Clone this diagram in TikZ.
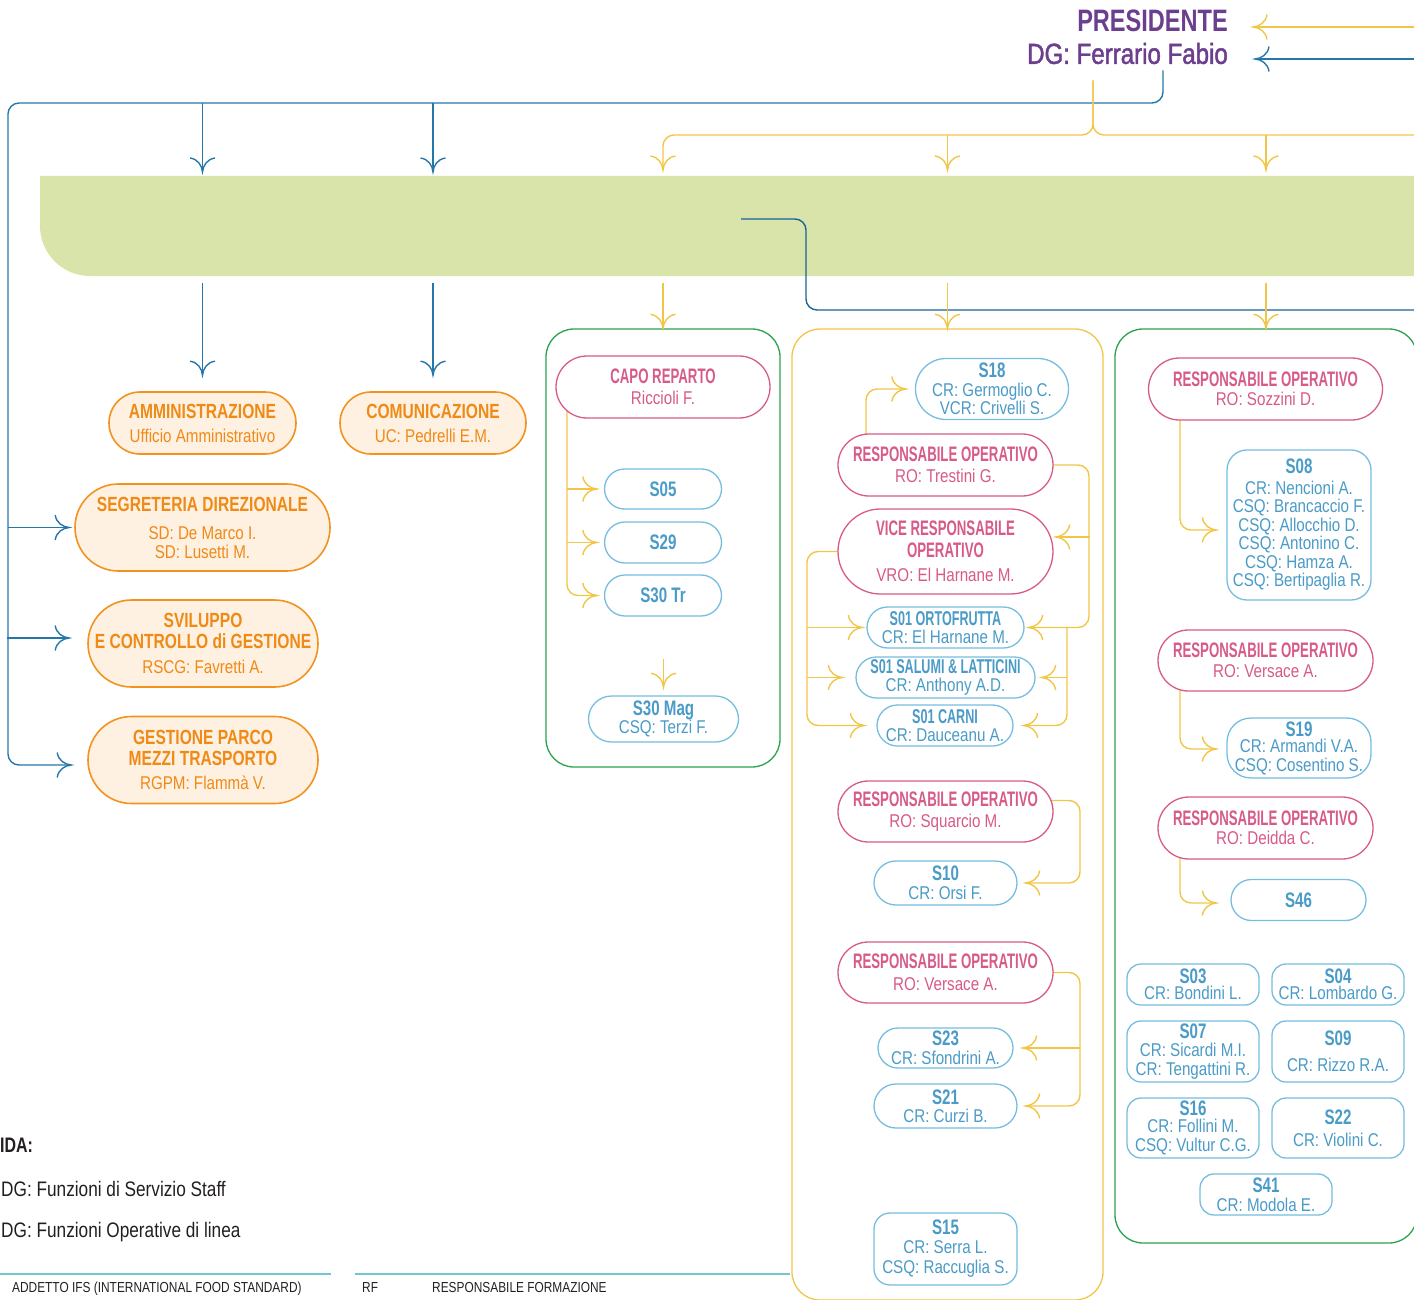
\documentclass[tikz,border=0pt]{standalone}
\usepackage{fontspec}
\setmainfont{Liberation Sans}
% condensed cuts of one sans family
\newfontfamily\famOr{Liberation Sans}[FakeStretch=0.76]
\newfontfamily\famPk{Liberation Sans}[FakeStretch=0.63]
\newfontfamily\famSn{Liberation Sans}[FakeStretch=0.72]
\newfontfamily\famRg{Liberation Sans}[FakeStretch=0.82]
\newfontfamily\famMd{Liberation Sans}[FakeStretch=0.83,FakeBold=1.6]
\usetikzlibrary{calc,arrows.meta}

\pgfdeclarelayer{back}
\pgfdeclarelayer{links}
\pgfsetlayers{back,links,main}

% forked arrow head with curved barbs
\pgfdeclarearrow{
  name = Fork,
  parameters = {\the\pgfarrowlength,\the\pgfarrowwidth},
  setup code = {
    \pgfarrowssettipend{0pt}
    \pgfarrowssetlineend{0pt}
    \pgfarrowssetbackend{-\pgfarrowlength}
    \pgfarrowshullpoint{0pt}{0pt}
    \pgfarrowsupperhullpoint{-\pgfarrowlength}{.5\pgfarrowwidth}
    \pgfarrowssavethe\pgfarrowlength
    \pgfarrowssavethe\pgfarrowwidth
  },
  drawing code = {
    \pgfsetcornersarced{\pgfpointorigin}
    \pgfsetdash{}{0pt}
    \pgfpathmoveto{\pgfqpoint{-\pgfarrowlength}{.5\pgfarrowwidth}}
    \pgfpathcurveto{\pgfqpoint{-.92\pgfarrowlength}{.18\pgfarrowwidth}}{\pgfqpoint{-.45\pgfarrowlength}{.02\pgfarrowwidth}}{\pgfqpoint{0pt}{0pt}}
    \pgfpathcurveto{\pgfqpoint{-.45\pgfarrowlength}{-.02\pgfarrowwidth}}{\pgfqpoint{-.92\pgfarrowlength}{-.18\pgfarrowwidth}}{\pgfqpoint{-\pgfarrowlength}{-.5\pgfarrowwidth}}
    \pgfusepathqstroke
  },
  defaults = {length = 14pt, width = 25pt}
}

\definecolor{cPurp}{HTML}{6B3E8E}
\definecolor{cBlu}{HTML}{2677A9}
\definecolor{cBluDk}{HTML}{1B6296}
\definecolor{cYel}{HTML}{F1C646}
\definecolor{cBan}{HTML}{D8E4AA}
\definecolor{cOrLine}{HTML}{F2921F}
\definecolor{cOrFill}{HTML}{FEF1E2}
\definecolor{cOrTxt}{HTML}{EF8A17}
\definecolor{cPk}{HTML}{D75A89}
\definecolor{cSkLine}{HTML}{76BDE0}
\definecolor{cSkTxt}{HTML}{4A9BC8}
\definecolor{cGrn}{HTML}{2BA24E}
\definecolor{cTeal}{HTML}{72C6CE}
\definecolor{cInk}{HTML}{231F20}

\newcommand\tOr[1]{{\famOr\bfseries\fontsize{20.5}{18.5}\selectfont #1}}
\newcommand\tPk[1]{{\famPk\bfseries\fontsize{21}{18.5}\selectfont #1}}
\newcommand\tSn[1]{{\famSn\bfseries\fontsize{21}{18.5}\selectfont #1}}
\newcommand\tSo[1]{{\famPk\bfseries\fontsize{20}{18.5}\selectfont #1}}

\tikzset{
  basefont/.style={font=\famRg\fontsize{18.5}{18.5}\selectfont},
  orbox/.style={basefont, draw=cOrLine, fill=cOrFill, text=cOrTxt, line width=1.6pt, align=center, inner sep=0pt},
  pkbox/.style={basefont, draw=cPk, fill=white, text=cPk, line width=1.3pt, align=center, inner sep=0pt},
  skbox/.style={basefont, draw=cSkLine, fill=white, text=cSkTxt, line width=1.3pt, align=center, inner sep=0pt},
  stad/.style 2 args={minimum width=#1pt, minimum height=#2pt, rounded corners=0.5*#2pt},
  rbox/.style n args={3}{minimum width=#1pt, minimum height=#2pt, rounded corners=#3pt},
  grpbox/.style={line width=1.3pt, rounded corners=28pt, inner sep=0pt},
  ylw/.style={draw=cYel, line width=1.4pt, rounded corners=11pt},
  blu/.style={draw=cBlu, line width=1.4pt, rounded corners=11pt},
  fk/.style={-Fork},
  legtxt/.style={anchor=base west, inner sep=0pt, text=cInk},
}

\begin{document}
\begin{tikzpicture}[x=1pt,y=-1pt]
\useasboundingbox (0,0) rectangle (1414,1300);

% ---------- top of the chart ----------
\node[anchor=north east, inner sep=0pt, align=right, text=cPurp,
      font=\famMd\fontsize{29}{32}\selectfont] (pres) at (1228,10)
      {{\famOr\bfseries\fontsize{31}{32}\selectfont PRESIDENTE}\\DG: Ferrario Fabio};
\coordinate (yIn) at (1420,27);
\coordinate (bIn) at (1420,59);
\coordinate (yTop) at ($(1093,0 |- pres.south)+(0,16)$);
\coordinate (bTop) at ($(1163,0 |- pres.south)+(0,6)$);
\coordinate (bnA) at (741,219);
\coordinate (bnB) at (1420,310);

% ---------- groups and band ----------
\begin{pgfonlayer}{back}
  \fill[cBan] (1420,176) -- (40,176) -- (40,226) .. controls (40,253.6) and (62.4,276) .. (90,276) -- (1420,276) -- cycle;
  \node[grpbox, draw=cGrn, minimum width=234pt, minimum height=438pt] (c3) at (663,548) {};
  \node[grpbox, draw=cYel, minimum width=311pt, minimum height=971pt] (c4) at (947.5,814.5) {};
  \node[grpbox, draw=cGrn, minimum width=302pt, minimum height=914pt] (c5) at (1266,786) {};
\end{pgfonlayer}

% ---------- staff functions ----------
\node[orbox, stad={187}{62}] (amm) at (202.5,423) {\tOr{AMMINISTRAZIONE}\\[5.5pt]Ufficio Amministrativo};
\node[orbox, stad={186}{62}] (com) at (433,423) {\tOr{COMUNICAZIONE}\\[5.5pt]UC: Pedrelli E.M.};
\node[orbox, stad={255}{87}] (segr) at (202.5,527.5) {\tOr{SEGRETERIA DIREZIONALE}\\[10pt]SD: De Marco I.\\SD: Lusetti M.};
\node[orbox, stad={230}{87}] (svil) at (203,643.5) {\tOr{SVILUPPO}\\[2.5pt]\tOr{E CONTROLLO di GESTIONE}\\[6pt]RSCG: Favretti A.};
\node[orbox, stad={230}{87}] (gest) at (203,760) {\tOr{GESTIONE PARCO}\\[2.5pt]\tOr{MEZZI TRASPORTO}\\[5.5pt]RGPM: Flammà V.};

% ---------- group 1 ----------
\node[pkbox, stad={214}{62}] (capo) at (663,387) {\tPk{CAPO REPARTO}\\[2pt]Riccioli F.};
\node[skbox, stad={117}{40}] (s05) at (663,489) {\tSn{S05}};
\node[skbox, stad={117}{41}] (s29) at (663,542.5) {\tSn{S29}};
\node[skbox, stad={117}{41}] (s30t) at (663,595.5) {\tSn{S30 Tr}};
\node[skbox, stad={150}{46}] (s30m) at (663.5,719) {\tSn{S30 Mag}\\CSQ: Terzi F.};

% ---------- group 2 ----------
\node[skbox, stad={153}{61}] (s18) at (992,389) {\tSn{S18}\\CR: Germoglio C.\\VCR: Crivelli S.};
\node[pkbox, stad={215}{62}] (roT) at (945.5,465) {\tPk{RESPONSABILE OPERATIVO}\\[2pt]RO: Trestini G.};
\node[pkbox, stad={215}{85}] (vro) at (945.5,551.5) {\tPk{VICE RESPONSABILE}\\[3.5pt]\tPk{OPERATIVO}\\[5.5pt]VRO: El Harnane M.};
\node[skbox, stad={157}{41}] (s01o) at (945.5,627.5) {\tSo{S01 ORTOFRUTTA}\\[-1pt]CR: El Harnane M.};
\node[skbox, stad={179}{41}] (s01s) at (945.5,677.5) {\tSo{S01 SALUMI \& LATTICINI}\\[-1pt]CR: Anthony A.D.};
\node[skbox, stad={136}{41}] (s01c) at (945,725.5) {\tSo{S01 CARNI}\\[-1pt]CR: Dauceanu A.};
\node[pkbox, stad={215}{61}] (roS) at (945.5,811.5) {\tPk{RESPONSABILE OPERATIVO}\\[2pt]RO: Squarcio M.};
\node[skbox, stad={143}{44}] (s10) at (945.5,883) {\tSn{S10}\\CR: Orsi F.};
\node[pkbox, stad={215}{61}] (roV4) at (945.5,972.5) {\tPk{RESPONSABILE OPERATIVO}\\[3pt]RO: Versace A.};
\node[skbox, stad={135}{40}] (s23) at (945.5,1048) {\tSn{S23}\\CR: Sfondrini A.};
\node[skbox, stad={143}{44}] (s21) at (945.5,1106) {\tSn{S21}\\CR: Curzi B.};
\node[skbox, rbox={143}{72}{16}] (s15) at (945.5,1249) {\tSn{S15}\\CR: Serra L.\\[2pt]CSQ: Raccuglia S.};

% ---------- group 3 ----------
\node[pkbox, stad={234}{62}] (roSo) at (1265.5,389) {\tPk{RESPONSABILE OPERATIVO}\\[1pt]RO: Sozzini D.};
\node[skbox, rbox={144}{150}{20}] (s08) at (1299,525) {\tSn{S08}\\[2pt]CR: Nencioni A.\\CSQ: Brancaccio F.\\CSQ: Allocchio D.\\CSQ: Antonino C.\\CSQ: Hamza A.\\CSQ: Bertipaglia R.};
\node[pkbox, stad={215}{61}] (roV5) at (1265.5,660.5) {\tPk{RESPONSABILE OPERATIVO}\\[1pt]RO: Versace A.};
\node[skbox, rbox={144}{60}{24}] (s19) at (1299,748) {\tSn{S19}\\[-2pt]CR: Armandi V.A.\\CSQ: Cosentino S.};
\node[pkbox, stad={215}{62}] (roD) at (1265.5,828) {\tPk{RESPONSABILE OPERATIVO}\\[1pt]RO: Deidda C.};
\node[skbox, stad={135}{41}] (s46) at (1298.5,900) {\tSn{S46}};
\node[skbox, rbox={132}{41}{14}] (s03) at (1193,984.5) {\tSn{S03}\\[-2pt]CR: Bondini L.};
\node[skbox, rbox={132}{41}{14}] (s04) at (1338,984.5) {\tSn{S04}\\[-2pt]CR: Lombardo G.};
\node[skbox, rbox={132}{61}{14}] (s07) at (1193,1051.5) {\tSn{S07}\\CR: Sicardi M.I.\\CR: Tengattini R.};
\node[skbox, rbox={132}{61}{14}] (s09) at (1338,1051.5) {\tSn{S09}\\[7pt]CR: Rizzo R.A.};
\node[skbox, rbox={132}{60}{14}] (s16) at (1193,1128) {\tSn{S16}\\[-2pt]CR: Follini M.\\[1pt]CSQ: Vultur C.G.};
\node[skbox, rbox={132}{60}{14}] (s22) at (1338,1128) {\tSn{S22}\\[4pt]CR: Violini C.};
\node[skbox, rbox={132}{41}{14}] (s41) at (1266,1194.5) {\tSn{S41}\\CR: Modola E.};

% ---------- legend ----------
\node[legtxt, font=\famOr\bfseries\fontsize{21}{21}\selectfont] (lgT) at (0,1152) {IDA:};
\node[legtxt, font=\famRg\fontsize{21}{21}\selectfont] (lg1) at (1,1196) {DG: Funzioni di Servizio Staff};
\node[legtxt, font=\famRg\fontsize{21}{21}\selectfont] (lg2) at (1,1237) {DG: Funzioni Operative di linea};
\draw[cTeal, line width=1.5pt] (0,1274) -- (331,1274);
\draw[cTeal, line width=1.5pt] (355,1274) -- (790,1274);
\node[legtxt, font=\famRg\fontsize{14.5}{14.5}\selectfont] (lg3) at (12,1292) {ADDETTO IFS (INTERNATIONAL FOOD STANDARD)};
\node[legtxt, font=\famRg\fontsize{14.5}{14.5}\selectfont] (lg4) at (362,1292) {RF};
\node[legtxt, font=\famRg\fontsize{14.5}{14.5}\selectfont] (lg5) at (432,1292) {RESPONSABILE FORMAZIONE};

% ---------- connectors ----------
\begin{pgfonlayer}{links}
  % into the president
  \draw[ylw,fk] (yIn) -- ($(yIn -| pres.east)+(25,0)$);
  \draw[blu,fk] (bIn) -- ($(bIn -| pres.east)+(27,0)$);

  % staff line
  \draw[blu,fk] (bTop) |- (8,103) |- ($(gest.west)+(-16,5)$);
  \draw[blu,fk] (8,0 |- segr.west) -- ($(segr.west)+(-5,0)$);
  \draw[blu,fk] ($(svil.west)+(-80,-5.5)$) -- ($(svil.west)+(-18,-5.5)$);
  \draw[blu,fk] (amm.north |- 0,103) -- (amm.north |- 0,172);
  \draw[blu,fk] (com.north |- 0,103) -- (com.north |- 0,172);
  \draw[blu,fk] (amm.north |- 0,283) -- ($(amm.north)+(0,-16)$);
  \draw[blu,fk] (com.north |- 0,283) -- ($(com.north)+(0,-16)$);
  \draw[cBluDk, line width=1.4pt, rounded corners=11pt] (bnA) -| (806,0 |- bnB) -- (bnB);

  % line functions
  \draw[ylw] (yTop) |- (1420,135);
  \draw[ylw,fk] (yTop) |- (c3.north |- 0,135) -- (c3.north |- 0,170);
  \draw[ylw,fk] (c4.north |- 0,135) -- (c4.north |- 0,170);
  \draw[ylw,fk] (c5.north |- 0,135) -- (c5.north |- 0,170);
  \draw[ylw,fk] (c3.north |- 0,283) -- (c3.north);
  \draw[ylw,fk] (c4.north |- 0,283) -- (c4.north);
  \draw[ylw,fk] (c5.north |- 0,283) -- (c5.north);

  % group 1
  \draw[ylw,fk] (567,0 |- capo.center) |- ($(s30t.west)+(-7,0)$);
  \draw[ylw,fk] (567,0 |- s05.west) -- ($(s05.west)+(-7,0)$);
  \draw[ylw,fk] (567,0 |- s29.west) -- ($(s29.west)+(-7,0)$);
  \draw[ylw,fk] ($(s30m.north)+(0,-36)$) -- ($(s30m.north)+(0,-8)$);

  % group 2
  \draw[ylw,fk] (866,0 |- roT.center) |- ($(s18.west)+(-9,0)$);
  \draw[ylw,fk] (roT.center) -| (1089,0 |- s01o.east) -- ($(s01o.east)+(4,0)$);
  \draw[ylw,fk] ($(vro.east)+(36,-14.5)$) -- ($(vro.east)+(2,-14.5)$);
  \draw[ylw,fk] (vro.center) -| (807,0 |- s01c.west) -- ($(s01c.west)+(-12,0)$);
  \draw[ylw,fk] (807,0 |- s01o.west) -- ($(s01o.west)+(-4,0)$);
  \draw[ylw,fk] (807,0 |- s01s.west) -- ($(s01s.west)+(-13,0)$);
  \draw[ylw,fk] (1067,0 |- s01o.east) |- ($(s01c.east)+(10,0)$);
  \draw[ylw,fk] (1067,0 |- s01s.east) -- ($(s01s.east)+(6,0)$);
  \draw[ylw,fk] ($(roS.center)+(0,-11)$) -| (1080,0 |- s10.east) -- ($(s10.east)+(8,0)$);
  \draw[ylw,fk] (roV4.center) -| (1080,0 |- s21.east) -- ($(s21.east)+(8,0)$);
  \draw[ylw,fk] (1080,0 |- s23.east) -- ($(s23.east)+(9,0)$);

  % group 3
  \draw[ylw,fk] (1180,0 |- roSo.center) |- ($(s08.west)+(-10,5)$);
  \draw[ylw,fk] (1180,0 |- roV5.center) |- ($(s19.west)+(-10,1)$);
  \draw[ylw,fk] (1180,0 |- roD.center) |- ($(s46.west)+(-14,3)$);
\end{pgfonlayer}
\end{tikzpicture}
\end{document}
